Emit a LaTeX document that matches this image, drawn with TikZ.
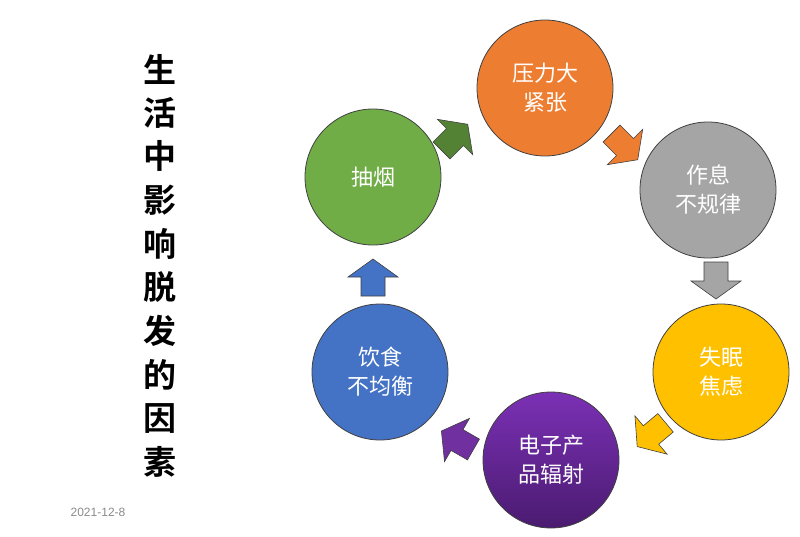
\documentclass[tikz,border=0pt]{standalone}
\usepackage{fontspec}
\setmainfont{Liberation Sans}
\newfontfamily\cjk{Noto Sans CJK SC}[BoldFont={* Bold}]
\usetikzlibrary{calc}

\definecolor{smokegreen}{HTML}{70AD47}
\definecolor{smokearrow}{HTML}{548235}
\definecolor{stressorange}{HTML}{ED7D31}
\definecolor{routinegray}{HTML}{A5A5A5}
\definecolor{insomniayellow}{HTML}{FFC000}
\definecolor{screentop}{HTML}{7B30B5}
\definecolor{screenbottom}{HTML}{4A1B70}
\definecolor{screenarrow}{HTML}{7030A0}
\definecolor{dietblue}{HTML}{4472C4}
\definecolor{dategray}{HTML}{8A8A8A}

\tikzset{
	factor/.style={circle, draw=black!75, line width=0.8pt, minimum size=136pt, inner sep=0pt,
		align=center, text=white, font=\cjk\fontsize{22}{29}\selectfont},
	titlechar/.style={font=\cjk\bfseries\fontsize{33}{33}\selectfont, inner sep=0pt},
	pics/cycarrow/.style={code={
		\filldraw[draw=black!75, line width=0.6pt, fill=#1]
			(-19,-12) -- (0,-12) -- (0,-25) -- (18,0) -- (0,25) -- (0,12) -- (-19,12) -- cycle;
	}}
}

\begin{document}
\begin{tikzpicture}[x=1pt, y=-1pt]
	\useasboundingbox (0,0) rectangle (800,536);

	% title, one character per line
	\foreach \ch [count=\i from 0] in {生,活,中,影,响,脱,发,的,因,素}
		\node[titlechar] (title\i) at (160, 69+43.7*\i) {\ch};
	\node[font=\fontsize{12}{12}\selectfont, text=dategray] (date) at (98,512) {2021-12-8};

	% the six factors
	\node[factor, fill=smokegreen] (smoke) at (373,177) {抽烟};
	\node[factor, fill=stressorange] (stress) at (545,88) {压力大\\紧张};
	\node[factor, fill=routinegray] (routine) at (708,190) {作息\\不规律};
	\node[factor, fill=insomniayellow] (insomnia) at (721,372) {失眠\\焦虑};
	\node[factor, top color=screentop, bottom color=screenbottom] (screen) at (551,460) {电子产\\品辐射};
	\node[factor, fill=dietblue] (diet) at (380,372) {饮食\\不均衡};

	% block arrows of the cycle
	\pic[rotate=45] at ($(smoke)!0.5!(stress)+(-4,4.5)$) {cycarrow=smokearrow};
	\pic[rotate=-45] at ($(stress)!0.5!(routine)+(-1.5,8)$) {cycarrow=stressorange};
	\pic[rotate=-90] at ($(routine)!0.5!(insomnia)+(1.5,0)$) {cycarrow=routinegray};
	\pic[rotate=-140] at ($(insomnia)!0.5!(screen)+(15,19)$) {cycarrow=insomniayellow};
	\pic[rotate=150] at ($(screen)!0.5!(diet)+(-8.5,24)$) {cycarrow=screenarrow};
	\pic[rotate=90] at ($(diet)!0.5!(smoke)+(-3.5,2.5)$) {cycarrow=dietblue};

\end{tikzpicture}
\end{document}
